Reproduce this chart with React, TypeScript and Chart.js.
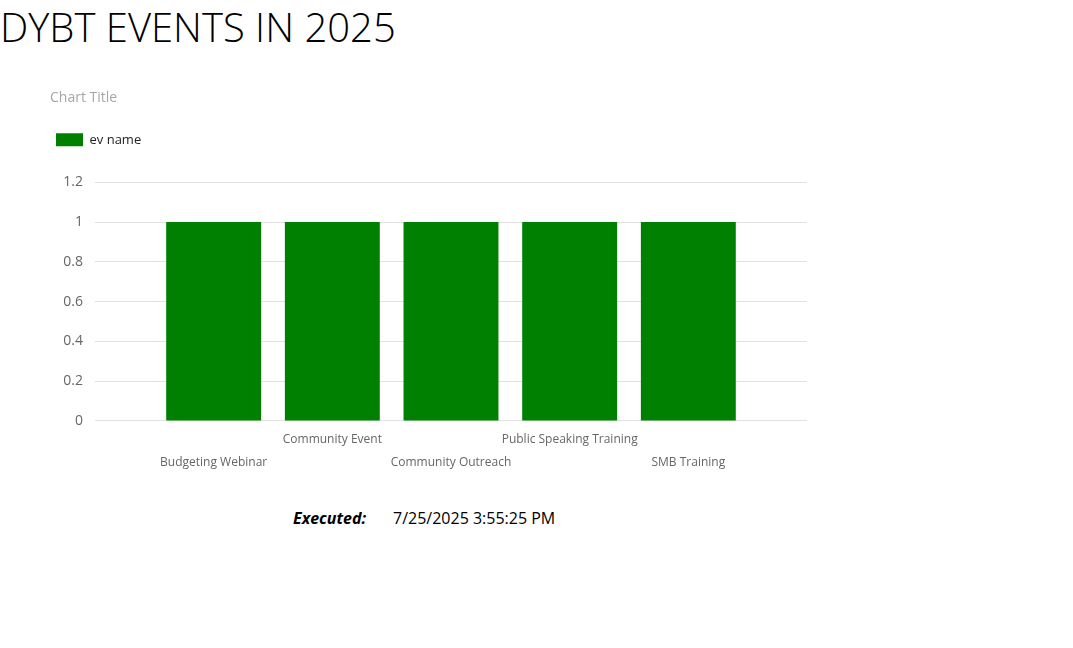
import React, { useEffect, useRef } from "react";
import { Chart, registerables } from "chart.js";

Chart.register(...registerables);

const pageTitle = "DYBT EVENTS IN 2025";
const chartTitle = "Chart Title";
const seriesName = "ev name";
const categories = [
  "Budgeting Webinar",
  "Community Event",
  "Community Outreach",
  "Public Speaking Training",
  "SMB Training",
];
const values = [1, 1, 1, 1, 1];
const yMin = 0;
const yMax = 1.2;
const yStep = 0.2;
const executedLabel = "Executed:";
const executedValue = "7/25/2025 3:55:25 PM";

const FONT = "'Open Sans', 'Noto Sans', sans-serif";

const legendGap = {
  id: "legendGap",
  beforeInit(chart: any) {
    const legend = chart.legend;
    if (!legend) return;
    const orig = legend.fit;
    legend.fit = function () {
      orig.call(this);
      this.height += 26;
    };
  },
};

export default function App() {
  const ref = useRef<HTMLCanvasElement | null>(null);

  useEffect(() => {
    if (!ref.current) return;
    const labels: string[][] = [
      [""],
      ...categories.map((c, i) => (i % 2 === 0 ? ["", c] : [c, ""])),
      [""],
    ];
    const data: (number | null)[] = [null, ...values, null];
    const chart = new Chart(ref.current, {
      type: "bar",
      data: {
        labels,
        datasets: [
          {
            label: seriesName,
            data,
            backgroundColor: "#008000",
            borderWidth: 0,
            categoryPercentage: 1,
            barPercentage: 0.8,
          },
        ],
      },
      plugins: [legendGap],
      options: {
        animation: false,
        responsive: false,
        layout: { padding: 0 },
        plugins: {
          title: {
            display: true,
            text: chartTitle,
            align: "start",
            color: "#a6a6a6",
            font: { family: FONT, size: 14, weight: "normal" },
            padding: { top: 9.5, bottom: 21 },
          },
          legend: {
            display: true,
            align: "start",
            labels: {
              boxWidth: 27,
              boxHeight: 13,
              padding: 6,
              color: "#222",
              font: { family: FONT, size: 13 },
            },
          },
          tooltip: { enabled: false },
        },
        scales: {
          x: {
            offset: false,
            grid: { display: false },
            border: { display: false },
            ticks: {
              autoSkip: false,
              maxRotation: 0,
              minRotation: 0,
              padding: -1,
              color: "#666",
              font: { family: FONT, size: 12, lineHeight: 1.92 },
            },
          },
          y: {
            min: yMin,
            max: yMax,
            grid: { color: "#e1e1e1", drawTicks: false, lineWidth: 1 },
            border: { display: false },
            ticks: {
              stepSize: yStep,
              padding: 12,
              color: "#666",
              font: { family: FONT, size: 14 },
              callback: (v: any) => String(Number(Number(v).toFixed(1))),
            },
            afterFit: (s: any) => {
              s.width = 45;
            },
          },
        },
      },
    });
    return () => chart.destroy();
  }, []);

  return (
    <div style={{ position: "absolute", left: 0, top: 0, width: 1073, height: 648 }}>
      <div
        style={{
          position: "absolute",
          left: 0,
          top: 0,
          fontFamily: FONT,
          fontWeight: 300,
          fontSize: 40,
          color: "#000",
          whiteSpace: "nowrap",
          lineHeight: "54px",
        }}
      >
        {pageTitle}
      </div>
      <canvas
        ref={ref}
        width={757}
        height={393}
        style={{ position: "absolute", left: 50, top: 80, width: 757, height: 393 }}
      />
      <div
        style={{
          position: "absolute",
          left: 293,
          top: 507,
          fontFamily: FONT,
          fontSize: 16,
          color: "#000",
          whiteSpace: "nowrap",
        }}
      >
        <span style={{ fontWeight: 700, fontStyle: "italic" }}>{executedLabel}</span>
        <span style={{ position: "absolute", left: 100 }}>{executedValue}</span>
      </div>
    </div>
  );
}
